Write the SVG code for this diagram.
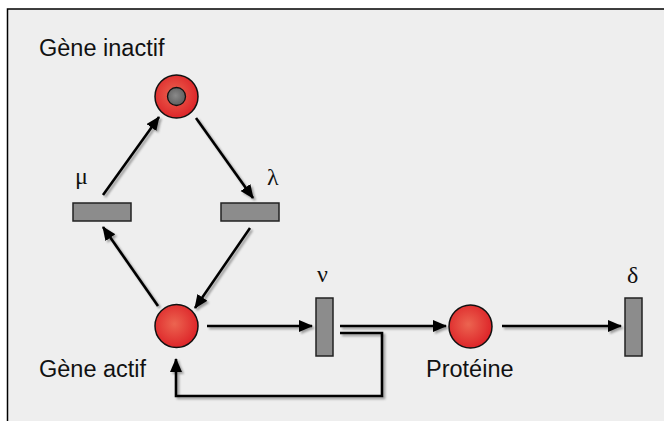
<svg xmlns="http://www.w3.org/2000/svg" width="664" height="421" viewBox="0 0 664 421">
  <defs>
    <radialGradient id="redFill" cx="0.45" cy="0.45" r="0.6">
      <stop offset="0" stop-color="#ec6450"/>
      <stop offset="1" stop-color="#dc2026"/>
    </radialGradient>
    <radialGradient id="tokenFill" cx="0.45" cy="0.45" r="0.6">
      <stop offset="0" stop-color="#8a8a8a"/>
      <stop offset="1" stop-color="#5a5a5a"/>
    </radialGradient>
    <filter id="shadow" x="-20%" y="-20%" width="140%" height="140%">
      <feDropShadow dx="2" dy="2" stdDeviation="0.8" flood-color="#000" flood-opacity="0.35"/>
    </filter>
    <marker id="arrow" markerUnits="userSpaceOnUse" markerWidth="16" markerHeight="14" refX="13" refY="6" orient="auto">
      <path d="M0,0 L14,6 L0,12 z" fill="#000"/>
    </marker>
  </defs>
  <style>
    .place { fill: url(#redFill); stroke: #111; stroke-width: 1.5; }
    .token { fill: url(#tokenFill); stroke: #111; stroke-width: 1.3; }
    .transition { fill: #8c8c8c; stroke: #222; stroke-width: 1.5; }
    .edge { fill: none; stroke: #000; stroke-width: 2.6; }
    .label { font-family: "Liberation Sans", Arial, sans-serif; font-size: 23.5px; fill: #111; }
    .rate { font-family: "Liberation Serif", "Times New Roman", serif; font-size: 24px; fill: #111; }
  </style>

  <!-- frame -->
  <rect x="7.5" y="9" width="662" height="420" fill="#eeeeee" stroke="#000" stroke-width="1.5"/>

  <!-- connectors -->
  <g id="connectors" filter="url(#shadow)">
    <path class="edge" d="M158,306 L103,227" marker-end="url(#arrow)"/>
    <path class="edge" d="M103,195 L159,117" marker-end="url(#arrow)"/>
    <path class="edge" d="M196,118 L253,198" marker-end="url(#arrow)"/>
    <path class="edge" d="M250,228 L195,308" marker-end="url(#arrow)"/>
    <path class="edge" d="M207,326 L312,326" marker-end="url(#arrow)"/>
    <path class="edge" d="M340,326 L446,326" marker-end="url(#arrow)"/>
    <path class="edge" d="M340,333 H382 V396 H176 V359" marker-end="url(#arrow)"/>
    <path class="edge" d="M502,326 L621,326" marker-end="url(#arrow)"/>
  </g>

  <!-- inactive gene place, holding one token -->
  <g id="gene-inactive">
    <circle class="place" cx="176.5" cy="96.5" r="21.5"/>
    <circle class="token" cx="176.5" cy="96.5" r="9"/>
    <text class="label" x="39" y="56">Gène inactif</text>
  </g>

  <!-- transition mu -->
  <g id="t-mu">
    <rect class="transition" x="73" y="203" width="58" height="18"/>
    <text class="rate" x="75" y="184">μ</text>
  </g>

  <!-- transition lambda -->
  <g id="t-lambda">
    <rect class="transition" x="221" y="203" width="58" height="18"/>
    <text class="rate" x="267" y="185">λ</text>
  </g>

  <!-- active gene place -->
  <g id="gene-active">
    <circle class="place" cx="176.5" cy="326" r="21.5"/>
    <text class="label" x="39" y="377">Gène actif</text>
  </g>

  <!-- transition nu -->
  <g id="t-nu">
    <rect class="transition" x="316" y="298" width="17" height="58"/>
    <text class="rate" x="317" y="282">ν</text>
  </g>

  <!-- protein place -->
  <g id="protein">
    <circle class="place" cx="470.5" cy="326.5" r="21.5"/>
    <text class="label" x="426" y="377">Protéine</text>
  </g>

  <!-- transition delta -->
  <g id="t-delta">
    <rect class="transition" x="625" y="298" width="17" height="58"/>
    <text class="rate" x="627" y="283">δ</text>
  </g>
</svg>
